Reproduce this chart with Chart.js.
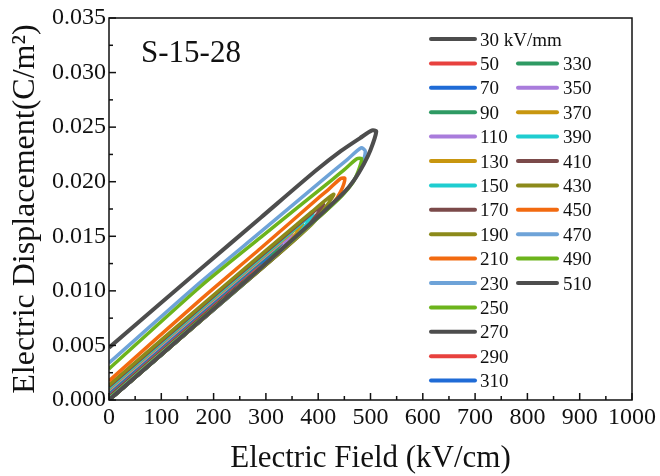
<!DOCTYPE html>
<html>
<head>
<meta charset="utf-8">
<script src="https://cdn.jsdelivr.net/npm/chart.js@4/dist/chart.umd.min.js"></script>
<style>
  html, body { margin: 0; padding: 0; background: #fff; }
</style>
</head>
<body>
<canvas id="deChart" width="660" height="476"></canvas>
<script>
// D-E loops, sample S-15-28

const fields = [30, 50, 70, 90, 110, 130, 150, 170, 190, 210, 230, 250, 270,
                290, 310, 330, 350, 370, 390, 410, 430, 450, 470, 490, 510];

const palette = ['#4d4d4d', '#e8413e', '#1f6bd6', '#2e9a63', '#a97cdc', '#c8960f',
                 '#1fcdd0', '#7b4a4a', '#8c8a1a', '#f26a10', '#6ea3d8', '#6cb41c'];

// each loop: charge branch up to Emax, then discharge branch back to E = 0
const loopE = [
  [0, 15, 27, 30, 27, 15, 0],
  [0, 25, 45, 50, 45, 25, 0],
  [0, 35, 63, 70, 63, 35, 0],
  [0, 45, 81, 90, 81, 45, 0],
  [0, 55, 99, 110, 99, 55, 0],
  [0, 65, 117, 130, 117, 65, 0],
  [0, 75, 135, 150, 135, 75, 0],
  [0, 85, 153, 170, 153, 85, 0],
  [0, 95, 171, 190, 171, 95, 0],
  [0, 105, 189, 210, 189, 105, 0],
  [0, 115, 207, 230, 207, 115, 0],
  [0, 125, 225, 250, 225, 125, 0],
  [0, 135, 243, 270, 243, 135, 0],
  [0, 145, 261, 290, 261, 145, 0],
  [0, 155, 279, 310, 279, 155, 0],
  [0, 165, 297, 330, 297, 165, 0],
  [0, 175, 315, 350, 315, 175, 0],
  [0, 185, 333, 370, 333, 185, 0],
  [0, 195, 351, 390, 351, 195, 0],
  [0, 205, 369, 410, 369, 205, 0],
  [0, 215, 387, 430, 387, 215, 0],
  [0, 175, 290, 400, 428, 443, 451, 443, 420, 400, 290, 175, 0],
  [0, 175, 290, 400, 450, 472, 484, 490, 482, 455, 427, 290, 175, 0],
  [0, 175, 290, 400, 445, 466, 476, 483, 474, 450, 427, 290, 175, 0],
  [0, 175, 290, 400, 449, 468, 487, 500, 511, 503, 480, 443, 395, 290, 175, 0]
];

const loopD = [
  [0, 0.00062, 0.00112, 0.00125, 0.00114, 0.00065, 0.00003],
  [0, 0.00104, 0.00187, 0.00209, 0.00190, 0.00108, 0.00005],
  [0, 0.00145, 0.00261, 0.00293, 0.00267, 0.00152, 0.00008],
  [0, 0.00187, 0.00336, 0.00378, 0.00344, 0.00198, 0.00011],
  [0, 0.00228, 0.00411, 0.00463, 0.00421, 0.00243, 0.00015],
  [0, 0.00270, 0.00486, 0.00549, 0.00500, 0.00289, 0.00019],
  [0, 0.00311, 0.00560, 0.00635, 0.00578, 0.00334, 0.00023],
  [0, 0.00353, 0.00635, 0.00721, 0.00657, 0.00381, 0.00028],
  [0, 0.00394, 0.00710, 0.00808, 0.00736, 0.00427, 0.00033],
  [0, 0.00436, 0.00784, 0.00895, 0.00815, 0.00474, 0.00039],
  [0, 0.00477, 0.00859, 0.00983, 0.00895, 0.00522, 0.00045],
  [0, 0.00519, 0.00934, 0.01071, 0.00976, 0.00570, 0.00052],
  [0, 0.00560, 0.01008, 0.01160, 0.01057, 0.00619, 0.00059],
  [0, 0.00602, 0.01083, 0.01249, 0.01139, 0.00668, 0.00067],
  [0, 0.00643, 0.01158, 0.01339, 0.01221, 0.00717, 0.00075],
  [0, 0.00685, 0.01233, 0.01428, 0.01303, 0.00767, 0.00084],
  [0, 0.00726, 0.01307, 0.01519, 0.01385, 0.00817, 0.00093],
  [0, 0.00768, 0.01382, 0.01610, 0.01469, 0.00869, 0.00103],
  [0, 0.00809, 0.01457, 0.01701, 0.01552, 0.00919, 0.00113],
  [0, 0.00851, 0.01531, 0.01792, 0.01636, 0.00971, 0.00124],
  [0, 0.00892, 0.01606, 0.01885, 0.01721, 0.01024, 0.00136],
  [0, 0.0073, 0.0121, 0.0167, 0.0180, 0.0191, 0.0203, 0.0203, 0.0193, 0.0185, 0.0139, 0.0092, 0.00175],
  [0, 0.0073, 0.0121, 0.0167, 0.0190, 0.0204, 0.0216, 0.0228, 0.0231, 0.0220, 0.0209, 0.0154, 0.0108, 0.0034],
  [0, 0.0073, 0.0121, 0.0167, 0.0187, 0.0199, 0.0209, 0.0221, 0.0221, 0.0211, 0.0202, 0.0149, 0.0104, 0.00285],
  [0, 0.0073, 0.0121, 0.0168, 0.0190, 0.0201, 0.0216, 0.0229, 0.0246, 0.0247, 0.0240, 0.0228, 0.0210, 0.0167, 0.0120, 0.0048]
];

const sampleName = 'S-15-28';
const serif = "'Liberation Serif', 'Times New Roman', serif";

const datasets = fields.map((f, i) => ({
  label: String(f),
  data: loopE[i].map((e, j) => ({ x: e, y: loopD[i][j] })),
  borderColor: palette[i % palette.length],
  borderWidth: f === 510 ? 4 : 3.5,
  showLine: true,
  fill: false,
  tension: 0.25,
  pointRadius: 0,
  order: fields.length - i
}));

// inward ticks, frame, legend in two columns, sample name
const decorPlugin = {
  id: 'decor',
  afterDraw(chart) {
    const ctx = chart.ctx;
    const a = chart.chartArea;
    const xs = chart.scales.x, ys = chart.scales.y;
    ctx.save();
    ctx.strokeStyle = '#111';
    ctx.lineWidth = 1.5;

    const xt = xs.ticks.map(t => t.value);
    for (let i = 0; i < xt.length; i++) {
      const px = xs.getPixelForValue(xt[i]);
      ctx.beginPath(); ctx.moveTo(px, a.bottom); ctx.lineTo(px, a.bottom - 7); ctx.stroke();
      if (i < xt.length - 1) {
        const pm = xs.getPixelForValue((xt[i] + xt[i + 1]) / 2);
        ctx.beginPath(); ctx.moveTo(pm, a.bottom); ctx.lineTo(pm, a.bottom - 4); ctx.stroke();
      }
    }
    const yt = ys.ticks.map(t => t.value);
    for (let i = 0; i < yt.length; i++) {
      const py = ys.getPixelForValue(yt[i]);
      ctx.beginPath(); ctx.moveTo(a.left, py); ctx.lineTo(a.left + 7, py); ctx.stroke();
      if (i < yt.length - 1) {
        const pm = ys.getPixelForValue((yt[i] + yt[i + 1]) / 2);
        ctx.beginPath(); ctx.moveTo(a.left, pm); ctx.lineTo(a.left + 4, pm); ctx.stroke();
      }
    }
    ctx.strokeRect(a.left, a.top, a.right - a.left, a.bottom - a.top);

    // sample name
    ctx.fillStyle = '#111';
    ctx.font = '31px ' + serif;
    ctx.textBaseline = 'alphabetic';
    ctx.textAlign = 'left';
    ctx.fillText(sampleName, 141, 62);

    // legend
    ctx.font = '19px ' + serif;
    ctx.lineWidth = 4;
    ctx.lineCap = 'round';
    const rowH = 24.4;
    chart.data.datasets.forEach((ds, i) => {
      const col = i < 15 ? 0 : 1;
      const row = col === 0 ? i : i - 14;
      const y = 39 + row * rowH;
      const x0 = col === 0 ? 431 : 518;
      const x1 = col === 0 ? 475 : 557;
      const tx = col === 0 ? 480 : 563;
      ctx.strokeStyle = ds.borderColor;
      ctx.beginPath(); ctx.moveTo(x0, y); ctx.lineTo(x1, y); ctx.stroke();
      ctx.fillText(i === 0 ? ds.label + ' kV/mm' : ds.label, tx, y + 6.5);
    });
    ctx.restore();
  }
};

const ctx = document.getElementById('deChart').getContext('2d');
new Chart(ctx, {
  type: 'scatter',
  data: { datasets: datasets },
  options: {
    responsive: false,
    animation: false,
    devicePixelRatio: 1,
    layout: { padding: { top: 18, right: 28, left: 0, bottom: 0 } },
    plugins: { legend: { display: false }, tooltip: { enabled: false } },
    scales: {
      x: {
        type: 'linear',
        min: 0, max: 1000,
        grid: { display: false, drawTicks: false },
        border: { display: false },
        ticks: { stepSize: 100, padding: 3, color: '#111', maxRotation: 0, autoSkip: false,
                 font: { family: serif, size: 24 },
                 callback: v => String(v) },
        title: { display: true, text: 'Electric Field (kV/cm)', color: '#111',
                 font: { family: serif, size: 31, lineHeight: 1 }, padding: { top: 0, bottom: 2 } },
        afterFit(scale) { scale.height = 76; }
      },
      y: {
        type: 'linear',
        min: 0, max: 0.035,
        grid: { display: false, drawTicks: false },
        border: { display: false },
        ticks: { stepSize: 0.005, padding: 3, color: '#111', autoSkip: false,
                 font: { family: serif, size: 24 },
                 callback: v => v.toFixed(3) },
        title: { display: true, text: 'Electric Displacement(C/m\u00B2)', color: '#111',
                 font: { family: serif, size: 32, lineHeight: 1 }, padding: { top: 10, bottom: 0 } },
        afterFit(scale) { scale.width = 109; }
      }
    }
  },
  plugins: [decorPlugin]
});
</script>
</body>
</html>
